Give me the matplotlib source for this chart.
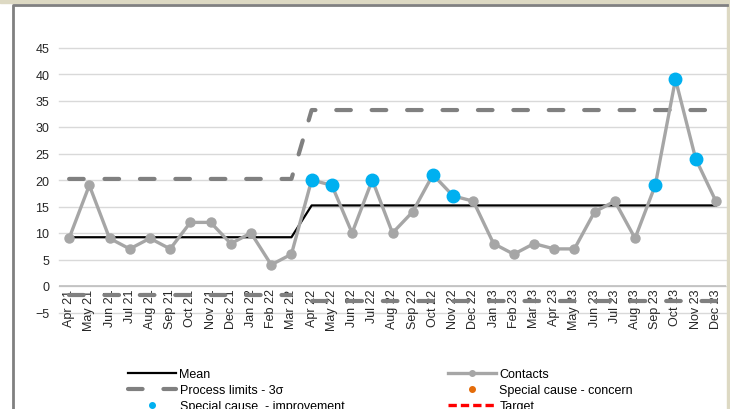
import matplotlib.pyplot as plt
import numpy as np
from matplotlib.lines import Line2D
from matplotlib.patches import Rectangle

plt.rcParams['font.family'] = ['Liberation Sans', 'DejaVu Sans']

months = ['Apr 21', 'May 21', 'Jun 21', 'Jul 21', 'Aug 21', 'Sep 21', 'Oct 21', 'Nov 21',
          'Dec 21', 'Jan 22', 'Feb 22', 'Mar 22', 'Apr 22', 'May 22', 'Jun 22', 'Jul 22',
          'Aug 22', 'Sep 22', 'Oct 22', 'Nov 22', 'Dec 22', 'Jan 23', 'Feb 23', 'Mar 23',
          'Apr 23', 'May 23', 'Jun 23', 'Jul 23', 'Aug 23', 'Sep 23', 'Oct 23', 'Nov 23',
          'Dec 23']
contacts = [9, 19, 9, 7, 9, 7, 12, 12, 8, 10, 4, 6, 20, 19, 10, 20, 10, 14, 21, 17, 16,
            8, 6, 8, 7, 7, 14, 16, 9, 19, 39, 24, 16]
# mean and 3-sigma limits per phase (phase changes at Apr 22)
mean = [9.2] * 12 + [15.2] * 21
upper = [20.2] * 12 + [33.2] * 21
lower = [-1.7] * 12 + [-2.8] * 21
improvement = ['Apr 22', 'May 22', 'Jul 22', 'Oct 22', 'Nov 22', 'Sep 23', 'Oct 23', 'Nov 23']

W, H = 730, 410
fig = plt.figure(figsize=(W / 100, H / 100), dpi=100)
ax = fig.add_axes([59 / W, 1 - 313.5 / H, (726 - 59) / W, (313.5 - 48.5) / H])

x = np.arange(len(months))
grey = '#a6a6a6'
blue = '#00b0f0'
limit_col = '#808080'

for yv in range(-5, 50, 5):
    ax.axhline(yv, color='#d9d9d9', lw=1, zorder=0, clip_on=False)
ax.axhline(0, color='#bfbfbf', lw=1.2, zorder=0)

dash = dict(color=limit_col, lw=3, linestyle=(0, (3.5, 5)), dash_capstyle='round')
ax.plot(x, upper, zorder=2, **dash)
ax.plot(x[:12], lower[:12], zorder=5, clip_on=False, **dash)
ax.plot(x[12:], lower[12:], zorder=5, clip_on=False, **dash)
ax.plot(x, mean, color='black', lw=1.6, zorder=3)
ax.plot(x, contacts, color=grey, lw=2.4, marker='o', ms=6.5, zorder=4)

imp_idx = [months.index(m) for m in improvement]
ax.plot(x[imp_idx], np.array(contacts)[imp_idx], 'o', color=blue, ms=9, zorder=6)

ax.set_xlim(-0.5, len(months) - 0.5)
ax.set_ylim(-5, 45)
ax.set_yticks(range(-5, 50, 5))
ax.set_xticks([])
ax.tick_params(axis='y', length=0, labelsize=9, pad=7, colors='#262626')
for s in ax.spines.values():
    s.set_visible(False)

for i, m in enumerate(months):
    ax.text(i, -0.45, m, rotation=90, ha='center', va='top', fontsize=9,
            color='#262626', zorder=4, clip_on=False)

# legend is filled column by column: left column first, then right
handles = [
    Line2D([], [], color='black', lw=1.6),
    Line2D([], [], color=limit_col, lw=3, linestyle=(0, (3.5, 5)), dash_capstyle='round'),
    Line2D([], [], color=blue, marker='o', ls='none', ms=4),
    Line2D([], [], color=grey, lw=2.4, marker='o', ms=4),
    Line2D([], [], color='#e46c0a', marker='o', ls='none', ms=4),
    Line2D([], [], color='#ff0000', lw=2.4, linestyle=(0, (2.5, 1.2))),
]
labels = ['Mean', 'Process limits - 3\u03c3', 'Special cause  - improvement',
          'Contacts', 'Special cause - concern', 'Target']
fig.legend(handles, labels, ncol=2, loc='upper left', bbox_to_anchor=(122 / W, 1 - 363 / H),
           frameon=False, fontsize=9, handlelength=3.8, handletextpad=0.3,
           labelspacing=0.33, columnspacing=8.3, borderpad=0)

# outer frame
fig.patches.append(Rectangle((0, 1 - 4 / H), 1, 4 / H, transform=fig.transFigure,
                             color='#ddd9c3', zorder=0))
fig.patches.append(Rectangle((727 / W, 0), 3 / W, 1, transform=fig.transFigure,
                             color='#ddd9c3', zorder=0))
fig.add_artist(Line2D([12.5 / W, 12.5 / W, 727 / W], [0, 1 - 5.5 / H, 1 - 5.5 / H],
                      transform=fig.transFigure, color='#808080', lw=2))

fig.savefig('out.png', dpi=100)
